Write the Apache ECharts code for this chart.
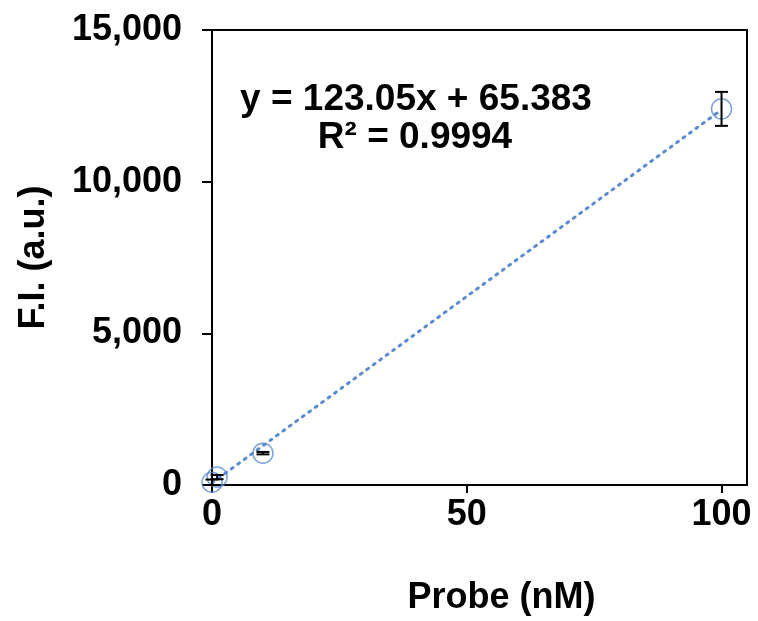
<!DOCTYPE html>
<html>
<head>
<meta charset="utf-8">
<script src="https://cdn.jsdelivr.net/npm/echarts@6/dist/echarts.min.js"></script>
<style>
  html, body { margin: 0; padding: 0; background: #fff; }
  #chart { width: 758px; height: 621px; }
</style>
</head>
<body>
<div id="chart"></div>
<script>
  // probe concentration (nM) vs fluorescence intensity
  const probeConc = [0, 1, 10, 100];
  const fluorescence = [90, 260, 1050, 12400];
  const errorSD = [90, 70, 40, 560];

  // linear fit shown on the chart
  const fitSlope = 123.05;
  const fitIntercept = 65.383;
  const fitRange = [0, 100];

  const xTicks = [0, 50, 100];

  const font = '"Liberation Sans", Arial, sans-serif';
  const blue = '#5B8BD0';

  var chartDom = document.getElementById('chart');
  var myChart = echarts.init(chartDom);

  const trendData = fitRange.map(x => [x, fitSlope * x + fitIntercept]);
  const pointData = probeConc.map((x, i) => [x, fluorescence[i]]);
  const errorData = probeConc.map((x, i) => [x, fluorescence[i], errorSD[i]]);

  function renderErrorBar(params, api) {
    const x = api.value(0);
    const y = api.value(1);
    const e = api.value(2);
    const top = api.coord([x, y + e]);
    const bot = api.coord([x, y - e]);
    const hw = 6.5;
    const style = { stroke: '#000', lineWidth: 2 };
    return {
      type: 'group',
      children: [
        { type: 'line', shape: { x1: top[0], y1: top[1], x2: bot[0], y2: bot[1] }, style: style },
        { type: 'line', shape: { x1: top[0] - hw, y1: top[1], x2: top[0] + hw, y2: top[1] }, style: style },
        { type: 'line', shape: { x1: bot[0] - hw, y1: bot[1], x2: bot[0] + hw, y2: bot[1] }, style: style }
      ]
    };
  }

  let option = {
    animation: false,
    grid: {
      left: 212,
      right: 11,
      top: 30,
      bottom: 136,
      show: true,
      borderColor: '#000',
      borderWidth: 2
    },
    xAxis: {
      type: 'value',
      min: 0,
      max: 105,
      name: 'Probe (nM)',
      nameLocation: 'middle',
      nameGap: 95,
      nameTextStyle: {
        fontFamily: font, fontSize: 36, fontWeight: 'bold', color: '#000',
        padding: [0, 0, 0, 44]
      },
      splitLine: { show: false },
      axisLine: { lineStyle: { color: '#000', width: 2 } },
      axisTick: { customValues: xTicks, length: 8, lineStyle: { color: '#000', width: 2 } },
      axisLabel: {
        customValues: xTicks,
        margin: 12,
        fontFamily: font, fontSize: 36, fontWeight: 'bold', color: '#000'
      }
    },
    yAxis: {
      type: 'value',
      min: 0,
      max: 15000,
      interval: 5000,
      name: 'F.I. (a.u.)',
      nameLocation: 'middle',
      nameGap: 160,
      nameRotate: 90,
      nameTextStyle: { fontFamily: font, fontSize: 36, fontWeight: 'bold', color: '#000' },
      splitLine: { show: false },
      axisLine: { show: true, lineStyle: { color: '#000', width: 2 } },
      axisTick: { show: true, length: 10, lineStyle: { color: '#000', width: 2 } },
      axisLabel: {
        margin: 30,
        fontFamily: font, fontSize: 36, fontWeight: 'bold', color: '#000',
        formatter: v => v.toLocaleString('en-US')
      }
    },
    graphic: [
      {
        type: 'text',
        position: [416, 100],
        style: {
          text: 'y = 123.05x + 65.383', x: 0, y: 0,
          font: 'bold 37px ' + font, fill: '#000', align: 'center', verticalAlign: 'middle'
        }
      },
      {
        type: 'text',
        position: [415, 138],
        style: {
          text: 'R\u00b2 = 0.9994', x: 0, y: 0,
          font: 'bold 37px ' + font, fill: '#000', align: 'center', verticalAlign: 'middle'
        }
      }
    ],
    series: [
      {
        type: 'line',
        data: trendData,
        symbol: 'none',
        lineStyle: { color: blue, width: 3, type: [2, 6], cap: 'round' },
        z: 1
      },
      {
        type: 'scatter',
        data: pointData,
        symbol: 'circle',
        symbolSize: 20,
        itemStyle: { color: 'rgba(0,0,0,0)', borderColor: blue, borderWidth: 1.5 },
        z: 2
      },
      {
        type: 'custom',
        data: errorData,
        encode: { x: 0, y: 1 },
        renderItem: renderErrorBar,
        z: 3
      }
    ]
  };

  myChart.setOption(option);
</script>
</body>
</html>
